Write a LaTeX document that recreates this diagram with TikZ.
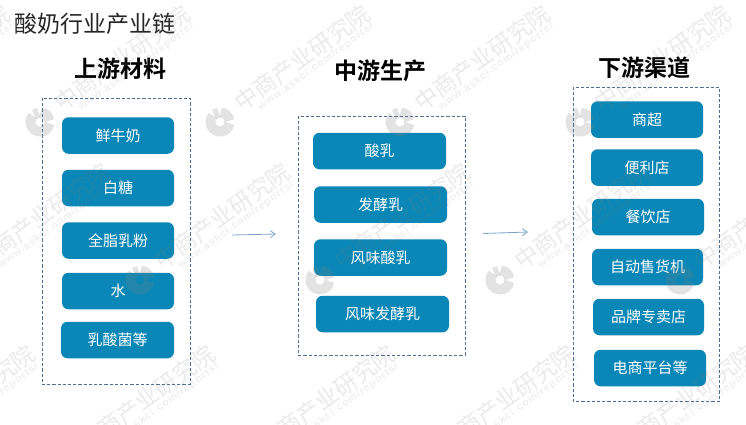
\documentclass[tikz,border=0pt]{standalone}
\usepackage{fontspec}
\setmainfont{Noto Sans CJK SC}
\newfontfamily\cjkb{Noto Sans CJK SC Bold}
\newfontfamily\wlat[LetterSpace=9]{Liberation Sans Bold}
\usetikzlibrary{arrows.meta}
\definecolor{boxblue}{HTML}{0A87B6}
\definecolor{dashblue}{HTML}{4F6F92}
\definecolor{arrowblue}{HTML}{7FA3C7}
\tikzset{
  x=1pt,y=-1pt,
  item/.style={fill=boxblue,rounded corners=6.5pt,inner sep=0pt,text=white,font=\fontsize{15}{15}\selectfont,anchor=center,minimum height=36.5pt},
  itemA/.style={item,minimum width=112pt},
  itemB/.style={item,minimum width=133pt},
  frame/.style={draw=dashblue,dashed,dash pattern=on 3.2pt off 2pt,line width=.7pt,fill=white},
  heading/.style={font=\cjkb\fontsize{23}{23}\selectfont,text=black,inner sep=0pt},
  flow/.style={draw=arrowblue,line width=.8pt,-{Straight Barb[length=5pt,width=7pt]}},
  wmark/.style={text=gray,text opacity=.16,rotate=36,inner sep=0pt,font=\fontsize{23}{23}\selectfont},
  wsub/.style={text=gray,text opacity=.12,rotate=36,inner sep=0pt,font=\wlat\fontsize{10.5}{11}\selectfont},
  wlogo/.style={draw=gray,draw opacity=.22,line width=10pt}
}
\begin{document}
\begin{tikzpicture}
\useasboundingbox (0,0) rectangle (746,424);
\fill[white] (0,0) rectangle (746,424);
% frames
\path[frame] (42,98) rectangle (190,384);
\path[frame] (298,116) rectangle (465,355);
\path[frame] (573,87) rectangle (719.5,401);
% title and headings
\node[anchor=west,inner sep=0pt,font=\fontsize{23}{23}\selectfont,text=black!85] (title) at (14,24) {酸奶行业产业链};
\node[heading] (h1) at (120,69) {上游材料};
\node[heading] (h2) at (380,71) {中游生产};
\node[heading] (h3) at (644,68) {下游渠道};
% upstream
\node[itemA] (a1) at (118,135.5) {鲜牛奶};
\node[itemA] (a2) at (118,188) {白糖};
\node[itemA] (a3) at (118,240.5) {全脂乳粉};
\node[itemA] (a4) at (118,291) {水};
\node[itemA,minimum width=113pt] (a5) at (117.5,340) {乳酸菌等};
% midstream
\node[itemB] (b1) at (379.5,151) {酸乳};
\node[itemB] (b2) at (380.5,204.5) {发酵乳};
\node[itemB] (b3) at (380.5,257.5) {风味酸乳};
\node[itemB] (b4) at (382.5,314) {风味发酵乳};
% downstream
\node[itemA] (c1) at (647,119.5) {商超};
\node[itemA] (c2) at (647,167.5) {便利店};
\node[itemA] (c3) at (648,217) {餐饮店};
\node[itemA,minimum width=111pt] (c4) at (647.5,267) {自动售货机};
\node[itemA,minimum width=111pt] (c5) at (648.5,317) {品牌专卖店};
\node[itemA] (c6) at (650,368) {电商平台等};
% arrows
\coordinate (p1) at (232,235);
\coordinate (q1) at (276,234);
\coordinate (p2) at (483,233.5);
\coordinate (q2) at (528,232);
\draw[flow] (p1) -- (q1);
\draw[flow] (p2) -- (q2);
% watermark lattice
\foreach \lx/\ly [count=\i] in {-140/122,40/122,220/122,400/122,580/122,
  -40/280,140/280,320/280,500/280,680/280,
  -115/462,65/462,245/462,425/462,605/462}{
  \path[wlogo] ({\lx+9.5*cos(8)},{\ly+9.5*sin(8)}) arc[start angle=8,end angle=222,radius=9.5];
  \path[wlogo] ({\lx+9.5*cos(232)},{\ly+9.5*sin(232)}) arc[start angle=232,end angle=262,radius=9.5];
  \path[wlogo] ({\lx+9.5*cos(274)},{\ly+9.5*sin(274)}) arc[start angle=274,end angle=352,radius=9.5];
  \node[wmark] (wm\i) at (\lx+82,\ly-64) {中商产业研究院};
  \node[wsub] (ws\i) at (\lx+96,\ly-55) {www.askci.com/reports/};
}
\end{tikzpicture}
\end{document}
